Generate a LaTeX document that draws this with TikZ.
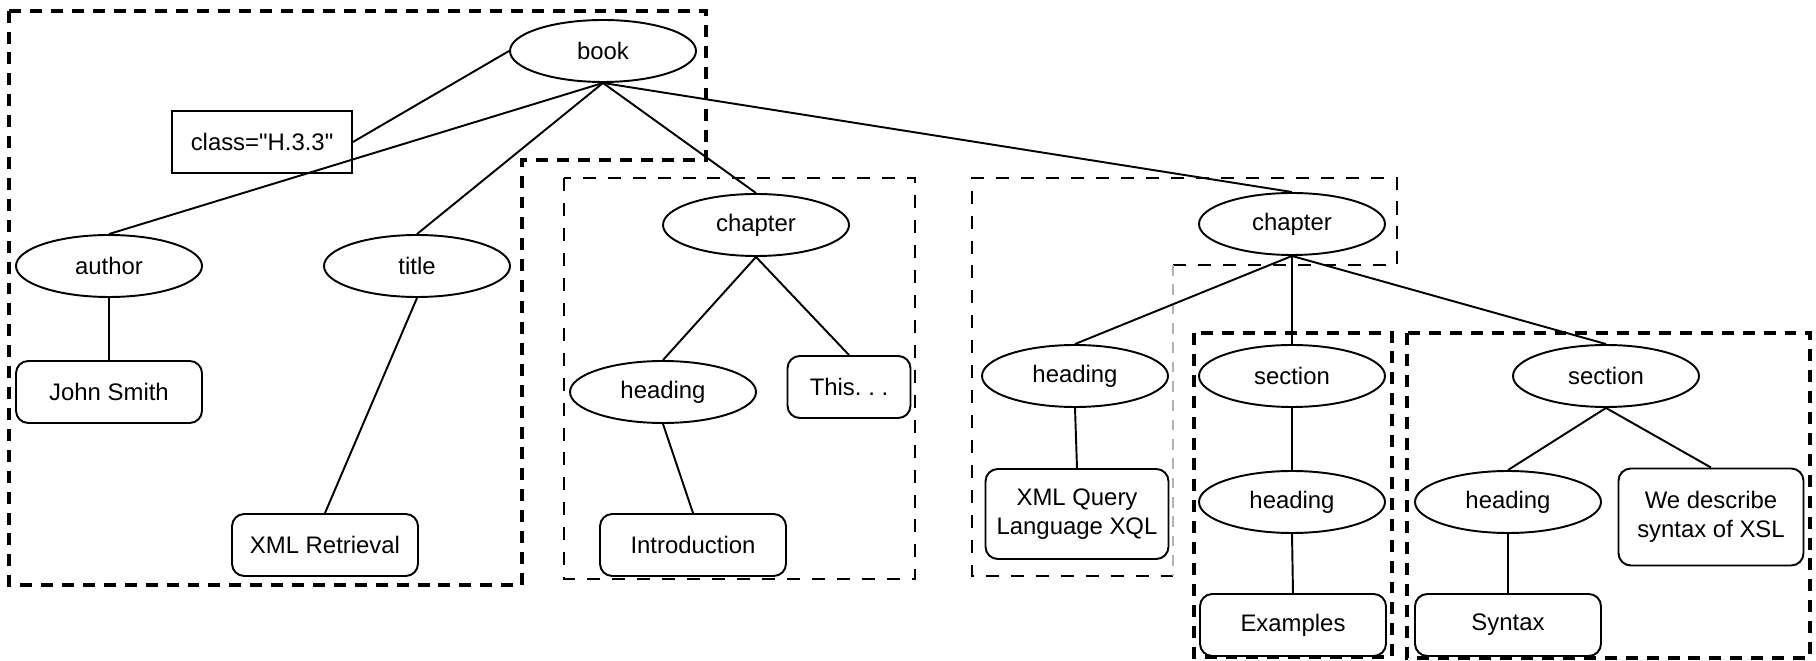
\documentclass[tikz,border=0pt]{standalone}
\usepackage{fontspec}
\setmainfont{Liberation Sans}
\usetikzlibrary{shapes.geometric}

\tikzset{
	schrift/.style={font=\fontsize{13.6}{16.5}\selectfont},
	elem/.style={schrift, draw, ellipse, fill=white, line width=1.1pt,
		minimum width=3.72cm, minimum height=1.24cm, inner sep=0pt},
	inhalt/.style={schrift, draw, fill=white, rounded corners=7pt,
		line width=1.1pt, minimum width=3.72cm, minimum height=1.24cm,
		inner sep=0pt, align=center},
	attrib/.style={schrift, draw, fill=white, line width=1.1pt,
		minimum width=3.6cm, minimum height=1.24cm, inner sep=0pt},
	kante/.style={line width=1.1pt},
	gruppe/.style={line width=2.2pt, dash pattern=on 6.8pt off 5.1pt},
	gruppeduenn/.style={line width=1.4pt, dash pattern=on 7.4pt off 6.8pt},
}

\begin{document}
\begin{tikzpicture}[x=0.2mm, y=-0.2mm]
	\useasboundingbox (0,0) rectangle (1816,661);
	% Gruppen
	\draw[gruppe] (9,11) -- (706,11) -- (706,160) -- (522,160) -- (522,585)
	-- (9,585) -- cycle;
	\draw[gruppeduenn] (564,178) rectangle (915,579);
	\draw[gruppeduenn] (1173,265) -- (1397,265) -- (1397,178) -- (972,178)
	-- (972,576) -- (1173,576);
	\draw[gray!60, line width=0.6pt, dash pattern=on 6pt off 5pt] (1173,265)
	-- (1173,576);
	\draw[gruppe] (1194,333) rectangle (1392,657);
	\draw[gruppe] (1407,333) rectangle (1810,658);
	% Elemente
	\node[elem] (book) at (603,51) {book};
	\node[attrib] (attr) at (262,142) {class=\textquotedbl H.3.3\textquotedbl};
	\node[elem] (author) at (109,266) {author};
	\node[elem] (title) at (417,266) {title};
	\node[inhalt] (john) at (109,392) {John Smith};
	\node[inhalt] (xmlret) at (325,545) {XML Retrieval};
	% erstes Kapitel
	\node[elem] (kap1) at (756,225) {chapter};
	\node[elem] (head1) at (663,392) {heading};
	\node[inhalt, minimum width=2.46cm] (this) at (849,387)
	{This.\hspace{0.28em}.\hspace{0.28em}.};
	\node[inhalt] (intro) at (693,545) {Introduction};
	% zweites Kapitel
	\node[elem] (kap2) at (1292,224) {chapter};
	\node[elem] (head2) at (1075,376) {heading};
	\node[inhalt, minimum width=3.66cm, minimum height=1.8cm] (xql)
	at (1077,514) {XML Query\\Language XQL};
	\node[elem] (sec1) at (1292,376) {section};
	\node[elem] (head3) at (1292,502) {heading};
	\node[inhalt] (examples) at (1293,625) {Examples};
	\node[elem] (sec2) at (1606,376) {section};
	\node[elem] (head4) at (1508,502) {heading};
	\node[inhalt, minimum width=3.7cm, minimum height=1.94cm] (wedesc)
	at (1711,517) {We describe\\syntax of XSL};
	\node[inhalt] (syntax) at (1508,625) {Syntax};
	% Kanten
	\draw[kante] (book.west) -- (attr.east);
	\foreach \von/\nach in {book/author, book/title, book/kap1, book/kap2,
		author/john, title/xmlret, kap1/head1, kap1/this, head1/intro,
		kap2/head2, kap2/sec1, kap2/sec2, head2/xql, sec1/head3,
		head3/examples, sec2/head4, sec2/wedesc, head4/syntax}
		\draw[kante] (\von.south) -- (\nach.north);
\end{tikzpicture}
\end{document}
